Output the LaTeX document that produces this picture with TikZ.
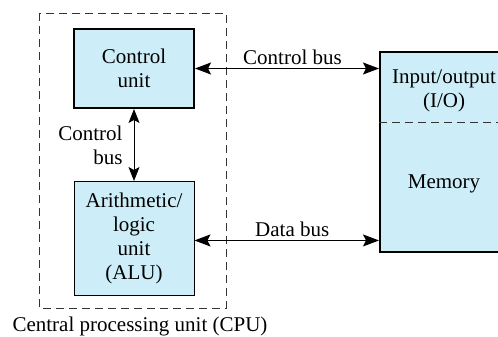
\documentclass[tikz,border=0pt]{standalone}
\usepackage{fontspec}
\setmainfont{Liberation Serif}
\usetikzlibrary{arrows.meta, positioning}
\definecolor{unitblue}{RGB}{205,238,249}

\begin{document}
\begin{tikzpicture}[
    x=1pt, y=-1pt,
    font=\fontsize{21}{24}\selectfont,
    unit/.style={rectangle, draw=black, fill=unitblue, minimum width=120pt,
                 text centered, align=center, inner sep=0pt},
    bus/.style={line width=1pt, {Stealth[length=16pt, width=12pt, inset=3pt]}-{Stealth[length=16pt, width=12pt, inset=3pt]}},
    twobus/.style={line width=1pt, {Stealth[length=14pt, width=11pt, inset=3pt]}-{Stealth[length=14pt, width=11pt, inset=3pt]}},
    boundary/.style={draw=black!80, line width=0.8pt, dash pattern=on 8pt off 5pt}
]
\clip (0,0) rectangle (498,337);
\node (cu)  [unit, line width=2pt, minimum height=79pt] at (134,68.5) {Control\\unit};
\node (alu) [unit, line width=0.9pt, minimum height=114pt, below=72pt of cu] {Arithmetic/\\logic\\unit\\(ALU)};
\node (mem) [unit, line width=2pt, minimum width=128pt, minimum height=200pt] at (444,152) {};
\node (io)  [align=center, inner sep=0pt] at (444,91) {Input/output\\(I/O)};
\node (memlabel) [inner sep=0pt] at (444,184) {Memory};
% dashed CPU border and I/O divider
\draw [boundary] (39,13) rectangle (226,308);
\draw [boundary] ([yshift=-71pt]mem.north west) -- ([yshift=-71pt]mem.north east);
\node (cpu) [inner sep=0pt] at (140,326) {Central processing unit (CPU)};
% buses
\draw [twobus] (cu) -- node[left=11pt, align=right, inner sep=0pt] {Control\\bus} (alu);
\draw [bus] (cu.east) -- node[above=3pt, pos=0.53, inner sep=0pt] {Control bus} (cu.east -| mem.west);
\draw [bus] ([yshift=-2pt]alu.east) -- node[above=3pt, pos=0.53, inner sep=0pt] {Data bus} ([yshift=-2pt]alu.east -| mem.west);
\end{tikzpicture}
\end{document}
